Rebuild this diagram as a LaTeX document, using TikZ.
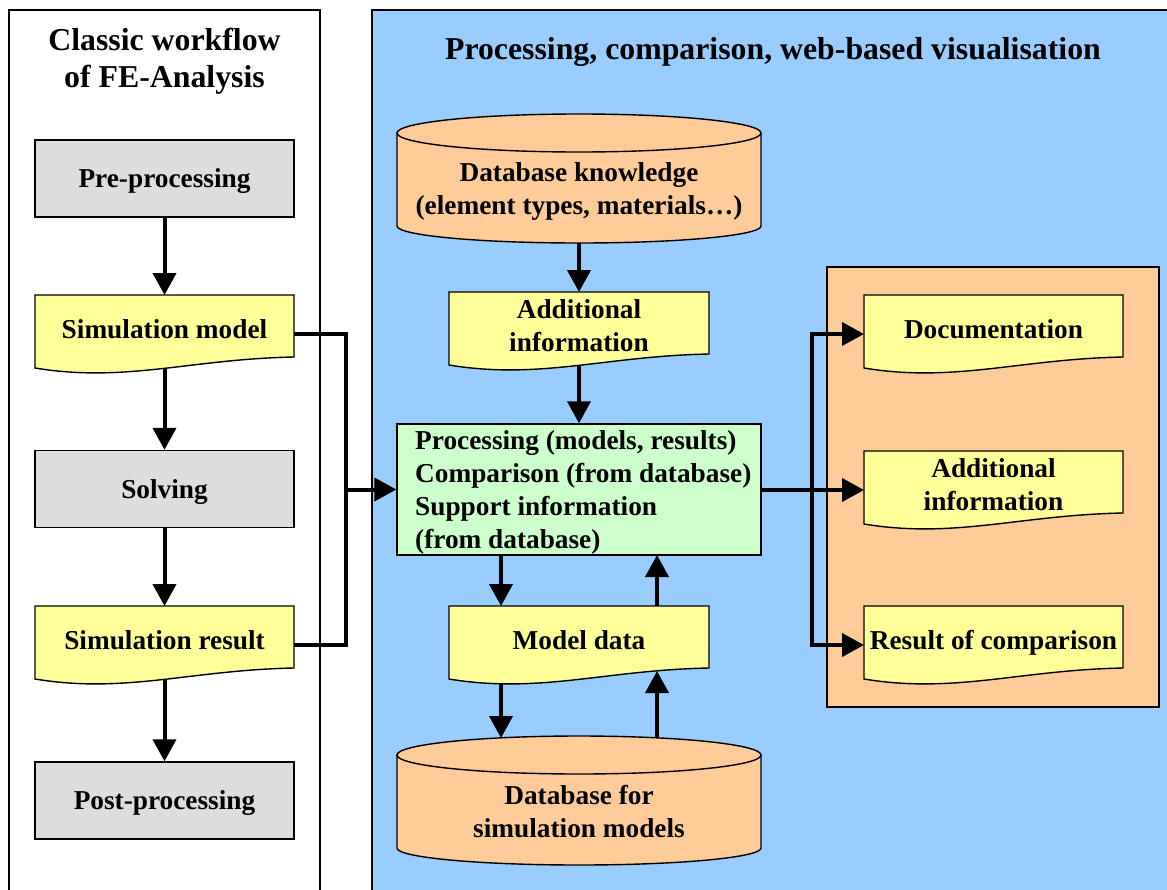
\documentclass[tikz,border=0pt]{standalone}
\usepackage{fontspec}
\setmainfont{Liberation Serif}
\usetikzlibrary{arrows.meta}
\definecolor{boxgray}{HTML}{DDDDDD}
\definecolor{docyellow}{HTML}{FFFF99}
\definecolor{procgreen}{HTML}{CCFFCC}
\definecolor{panelblue}{HTML}{99CCFF}
\definecolor{dborange}{HTML}{FFCC99}
\tikzset{
  panel/.style={draw=black, line width=1.4pt},
  procbox/.style={draw=black, line width=1.4pt, fill=boxgray, minimum width=259pt, minimum height=77pt, inner sep=0pt},
  docstyle/.style={draw=black, line width=1.4pt, fill=docyellow},
  cylstyle/.style={draw=black, line width=1.4pt, fill=dborange},
  txt/.style={font=\bfseries\fontsize{27.3}{33}\selectfont, align=center, inner sep=0pt, text depth=0pt},
  titletxt/.style={font=\bfseries\fontsize{31.8}{37}\selectfont, align=center, inner sep=0pt, text depth=0pt},
  wire/.style={line width=4pt},
  conn/.style={line width=4pt, -{Triangle[length=22pt,width=23pt]}},
}
% document shape: name, x, y, width, text
\newcommand\docshape[5]{%
  \filldraw[docstyle] (#2,#3) -- ({#2+#4},#3) -- ({#2+#4},{#3+62})
    .. controls ({#2+0.6*#4},{#3+64}) and ({#2+0.35*#4},{#3+88}) .. (#2,{#3+73}) -- cycle;
  \node[txt] (#1) at ({#2+#4/2},{#3+34}) {#5};
  \coordinate (#1-top) at ({#2+#4/2},#3);
  \coordinate (#1-w) at (#2,{#3+39});
  \coordinate (#1-e) at ({#2+#4},{#3+39});
}
% cylinder: name, centre x, top y, bottom y, text centre y, text
\newcommand\dbcyl[6]{%
  \filldraw[cylstyle] ({#2-182},{#3+19}) -- ({#2-182},{#4-17})
    .. controls ({#2-182},{#4-17+0.5523*17}) and ({#2-0.5523*182},#4) .. (#2,#4)
    .. controls ({#2+0.5523*182},#4) and ({#2+182},{#4-17+0.5523*17}) .. ({#2+182},{#4-17})
    -- ({#2+182},{#3+19}) -- cycle;
  \filldraw[cylstyle] (#2,{#3+19}) ellipse [x radius=182pt, y radius=19pt];
  \node[txt] (#1) at (#2,#5) {#6};
}
\begin{document}
\begin{tikzpicture}[x=1pt,y=-1pt]
\useasboundingbox (0,0) rectangle (1167,889);
\clip (0,0) rectangle (1167,889);
\fill[white] (0,0) rectangle (1167,889);

% panels
\filldraw[panel, fill=white] (9,10) rectangle (320,905);
\filldraw[panel, fill=panelblue] (372,10) rectangle (1185,905);
\filldraw[panel, fill=dborange] (827,267) rectangle (1159,707);

% titles
\node[titletxt] (t1) at (164.5,58) {Classic workflow\\of FE-Analysis};
\node[titletxt] (t2) at (773,48) {Processing, comparison, web-based visualisation};

% left column
\node[procbox, txt] (pre) at (164.5,178.5) {Pre-processing};
\docshape{sm}{35}{295}{259}{Simulation model}
\node[procbox, txt] (solv) at (164.5,489) {Solving};
\docshape{sr}{35}{606}{259}{Simulation result}
\node[procbox, txt] (post) at (164.5,800.5) {Post-processing};

\coordinate (sm-b) at (164.5,369);
\coordinate (sr-b) at (164.5,680);
\draw[conn] (pre.south) -- (sm-top);
\draw[conn] (sm-b) -- (solv.north);
\draw[conn] (solv.south) -- (sr-top);
\draw[conn] (sr-b) -- (post.north);

% middle column
\dbcyl{dbk}{579}{114}{243}{189}{Database knowledge\\(element types, materials\ldots)}
\coordinate (dbk-b) at (579,243);
\docshape{ai}{449}{292}{260}{Additional\\information}
\coordinate (ai-b) at (579,366);
\node[draw=black, line width=1.4pt, fill=procgreen, minimum width=364pt, minimum height=131pt, inner sep=0pt] (proc) at (579,489.5) {};
\node[txt, align=left, anchor=west] (proctxt) at (415,490) {Processing (models, results)\\Comparison (from database)\\Support information\\(from database)};
\docshape{md}{449}{606}{260}{Model data}
\dbcyl{dbs}{579}{736}{865}{811}{Database for\\simulation models}

\draw[conn] (dbk-b) -- (ai-top);
\draw[conn] (ai-b) -- (proc.north);
\coordinate (proc-b1) at (501,555);
\coordinate (proc-b2) at (657,555);
\coordinate (md-t1) at (501,606);
\coordinate (md-t2) at (657,606);
\coordinate (md-b1) at (501,684);
\coordinate (md-b2) at (657,671);
\coordinate (dbs-t1) at (501,738);
\coordinate (dbs-t2) at (657,738);
\draw[conn] (proc-b1) -- (md-t1);
\draw[conn] (md-t2) -- (proc-b2);
\draw[conn] (md-b1) -- (dbs-t1);
\draw[conn] (dbs-t2) -- (md-b2);

% right column
\docshape{doc}{864}{295}{259}{Documentation}
\docshape{ai2}{864}{451}{259}{Additional\\information}
\docshape{rc}{864}{606}{259}{Result of comparison}

% left connectors
\coordinate (jl) at (346,489.5);
\draw[wire] (sm-e) -| (jl) |- (sr-e);
\draw[conn] (jl) -- (proc.west |- jl);

% right connectors
\coordinate (jr) at (812,490);
\draw[conn] (proc.east |- ai2-w) -- (ai2-w);
\draw[conn] (jr) |- (doc-w);
\draw[conn] (jr) |- (rc-w);
\end{tikzpicture}
\end{document}
